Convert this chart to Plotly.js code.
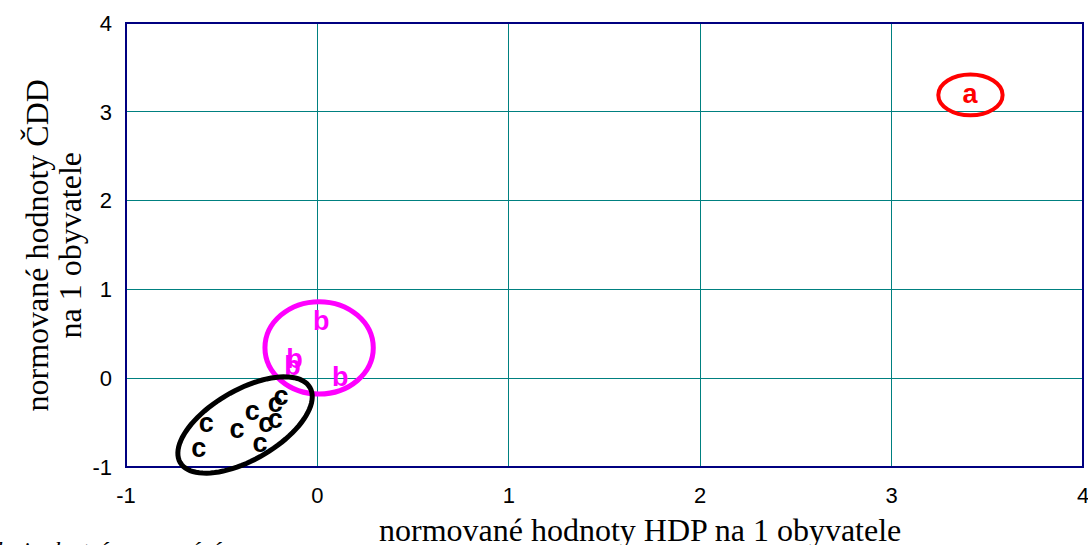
<!DOCTYPE html>
<html>
<head>
<meta charset="utf-8">
<script src="https://cdn.plot.ly/plotly-3.0.1.min.js"></script>
<style>html,body{margin:0;padding:0;background:#fff;}#chart{width:1088px;height:545px;}</style>
</head>
<body>
<div id="chart"></div>
<script>
// Data
const groupA_x = [3.41];
const groupA_y = [3.17];
const groupB_x = [0.02, -0.12, -0.13, 0.12];
const groupB_y = [0.62, 0.19, 0.11, -0.01];
const groupC_x = [-0.62, -0.58, -0.42, -0.34, -0.30, -0.27, -0.22, -0.22, -0.19];
const groupC_y = [-0.81, -0.53, -0.60, -0.40, -0.75, -0.53, -0.49, -0.30, -0.23];
const tickVals = [-1, 0, 1, 2, 3, 4];
const tickText = ["-1", "0", "1", "2", "3", "4"];

const xTitle = "normované hodnoty HDP na 1 obyvatele";
const yTitleLine1 = "normované hodnoty ČDD";
const yTitleLine2 = "na 1 obyvatele";
const sourceNote = "Zdroj: vlastní zpracování";

const AX_MIN = -1, AX_MAX = 4;
const SERIF = "Liberation Serif, Times New Roman, serif";
const SANS = "Liberation Sans, Arial, sans-serif";

const letterFont = (c) => ({family: SANS, size: 27, color: c, weight: "bold"});

function group(xs, ys, label, color) {
  return {
    type: "scatter", mode: "text", x: xs, y: ys,
    text: xs.map(() => label), textposition: "middle center",
    textfont: letterFont(color), hoverinfo: "skip", showlegend: false, cliponaxis: false
  };
}

// data value -> paper fraction (so the outlines are not clipped at the axes)
const px = (v) => (v - AX_MIN) / (AX_MAX - AX_MIN);

// rotated ellipse path (centre + two conjugate semi-axis vectors in data units)
function ellipsePath(cx, cy, ux, uy, vx, vy) {
  let d = "";
  for (let i = 0; i <= 90; i++) {
    const t = i / 90 * 2 * Math.PI;
    const x = cx + ux * Math.cos(t) + vx * Math.sin(t);
    const y = cy + uy * Math.cos(t) + vy * Math.sin(t);
    d += (i === 0 ? "M" : "L") + px(x).toFixed(5) + "," + px(y).toFixed(5);
  }
  return d + "Z";
}

function ellipseShape(x0, x1, y0, y1, color, width) {
  return {type: "circle", xref: "paper", yref: "paper",
          x0: px(x0), x1: px(x1), y0: px(y0), y1: px(y1),
          line: {color: color, width: width}};
}

const traces = [
  group(groupA_x, groupA_y, "a", "#FF0000"),
  group(groupB_x, groupB_y, "b", "#FF00FF"),
  group(groupC_x, groupC_y, "c", "#000000")
];

const axisCommon = {
  range: [AX_MIN, AX_MAX], tickvals: tickVals, ticktext: tickText,
  showgrid: true, gridcolor: "#008080", gridwidth: 1,
  zeroline: false, showline: false, ticks: "", fixedrange: true,
  ticklabeloverflow: "allow",
  tickfont: {family: SANS, size: 22, color: "#000"}
};

const layout = {
  width: 1088, height: 545,
  margin: {l: 126, r: 5, t: 23, b: 78},
  paper_bgcolor: "#fff", plot_bgcolor: "#fff",
  showlegend: false,
  xaxis: Object.assign({}, axisCommon, {ticklabelstandoff: 13}),
  yaxis: Object.assign({}, axisCommon, {ticklabelstandoff: 13}),
  shapes: [
    {type: "rect", xref: "paper", yref: "paper", x0: 0, x1: 1, y0: 0, y1: 1,
     line: {color: "#000080", width: 2}, layer: "above"},
    ellipseShape(3.244, 3.58, 2.96, 3.42, "#FF0000", 4),
    ellipseShape(-0.274, 0.292, -0.178, 0.862, "#FF00FF", 5),
    {type: "path", xref: "paper", yref: "paper",
     path: ellipsePath(-0.378, -0.527, 0.339, 0.422, 0.0914, -0.341),
     line: {color: "#000000", width: 5}}
  ],
  annotations: [
    {text: xTitle, xref: "paper", yref: "paper", x: 0.537, y: -0.142, xanchor: "center", yanchor: "middle",
     showarrow: false, font: {family: SERIF, size: 32, color: "#000"}},
    {text: yTitleLine1, xref: "paper", yref: "paper", x: -0.0925, y: 0.5, xanchor: "center", yanchor: "middle",
     textangle: -90, showarrow: false, font: {family: SERIF, size: 32, color: "#000"}},
    {text: yTitleLine2, xref: "paper", yref: "paper", x: -0.059, y: 0.5, xanchor: "center", yanchor: "middle",
     textangle: -90, showarrow: false, font: {family: SERIF, size: 32, color: "#000"}},
    {text: sourceNote, xref: "paper", yref: "paper", x: -0.158, y: -0.187, xanchor: "left", yanchor: "middle",
     showarrow: false, font: {family: SERIF, size: 24, color: "#000", style: "italic"}}
  ]
};

Plotly.newPlot("chart", traces, layout, {displayModeBar: false, staticPlot: true});
</script>
</body>
</html>
